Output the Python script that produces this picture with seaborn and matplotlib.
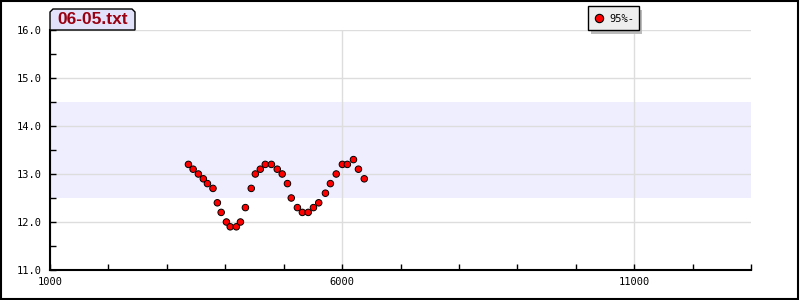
import matplotlib
matplotlib.use("Agg")
import matplotlib.pyplot as plt
from matplotlib.patches import Polygon, Rectangle
from matplotlib.ticker import MultipleLocator, FixedLocator, FormatStrFormatter
import seaborn as sns
import pandas as pd

title = "06-05.txt"
series_name = "95%-"
x_vals = [3370, 3450, 3540, 3625, 3695, 3790, 3865, 3930, 4020, 4085, 4190, 4260,
          4345, 4445, 4515, 4600, 4685, 4790, 4890, 4975, 5065, 5130, 5235, 5320,
          5420, 5510, 5600, 5715, 5800, 5900, 6005, 6090, 6195, 6280, 6380]
y_vals = [13.2, 13.1, 13.0, 12.9, 12.8, 12.7, 12.4, 12.2, 12.0, 11.9, 11.9, 12.0,
          12.3, 12.7, 13.0, 13.1, 13.2, 13.2, 13.1, 13.0, 12.8, 12.5, 12.3, 12.2,
          12.2, 12.3, 12.4, 12.6, 12.8, 13.0, 13.2, 13.2, 13.3, 13.1, 12.9]
x_ticks = [1000, 6000, 11000]
band = (12.5, 14.5)

df = pd.DataFrame({"x": x_vals, "y": y_vals, "series": series_name})

sns.set_style("white")
plt.rcParams['font.family'] = ['DejaVu Sans Mono', 'DejaVu Sans']

W, H = 800, 300
fig = plt.figure(figsize=(8, 3), dpi=100)
ax = fig.add_axes([50 / W, 30 / H, 701 / W, 240 / H])

ax.axhspan(band[0], band[1], color="#eeeeff", zorder=0, lw=0)

sns.scatterplot(data=df, x="x", y="y", hue="series", palette=["#ff0000"],
                s=22, edgecolor="black", linewidth=0.7, ax=ax, zorder=3, legend=False)

ax.set_xlim(1000, 13000)
ax.set_ylim(11.0, 16.0)
ax.xaxis.set_major_locator(FixedLocator(x_ticks))
ax.xaxis.set_minor_locator(MultipleLocator(1000))
ax.yaxis.set_major_locator(MultipleLocator(1.0))
ax.yaxis.set_minor_locator(MultipleLocator(0.5))
ax.yaxis.set_major_formatter(FormatStrFormatter("%.1f"))
ax.set_xlabel("")
ax.set_ylabel("")

ax.grid(True, which="major", color="#dddddd", lw=1.0, zorder=1)
ax.set_axisbelow(True)
for s in ["top", "right"]:
    ax.spines[s].set_visible(False)
for s in ["left", "bottom"]:
    ax.spines[s].set_color("black")
    ax.spines[s].set_linewidth(1.5)
ax.tick_params(which="both", direction="in", color="black", width=1.0,
               labelsize=7.5, labelcolor="black", bottom=True, left=True,
               top=False, right=False)
ax.tick_params(which="major", length=4)
ax.tick_params(which="minor", length=4)
ax.tick_params(axis="x", pad=5)
ax.tick_params(axis="y", pad=6)

# title tab
def fx(px):
    return px / W

def fy(py):
    return 1 - py / H

tab = Polygon([(fx(50), fy(30)), (fx(50), fy(12)), (fx(53), fy(9)), (fx(132), fy(9)),
               (fx(135), fy(12)), (fx(135), fy(30))], closed=True,
              transform=fig.transFigure, facecolor="#e2e2fa", edgecolor="black",
              lw=1.0, zorder=5)
fig.patches.append(tab)
fig.text(fx(92.5), fy(20), title, ha="center", va="center", color="#990011",
         fontsize=12.5, fontweight="bold", family="Liberation Sans", zorder=7)

# legend box with shadow
shadow = Rectangle((fx(591), fy(34)), (639 - 588) / W, (30 - 6) / H,
                   transform=fig.transFigure, facecolor="#bbbbbb", edgecolor="none", zorder=4)
fig.patches.append(shadow)
lbox = Rectangle((fx(588), fy(30)), (639 - 588) / W, (30 - 6) / H,
                 transform=fig.transFigure, facecolor="#eeeeee", edgecolor="black",
                 lw=1.0, zorder=5)
fig.patches.append(lbox)
fig.lines.append(plt.Line2D([fx(599)], [fy(18)], marker="o", markersize=6,
                            markerfacecolor="#ff0000", markeredgecolor="black",
                            markeredgewidth=0.8, transform=fig.transFigure, zorder=6))
fig.text(fx(609), fy(18.5), series_name, ha="left", va="center", fontsize=7.5,
         color="black", zorder=7)

# outer frame
fig.patches.append(Rectangle((0.001, 0.002), 0.997, 0.995, transform=fig.transFigure,
                             fill=False, edgecolor="black", lw=1.5))

fig.savefig("out.png", dpi=100)
